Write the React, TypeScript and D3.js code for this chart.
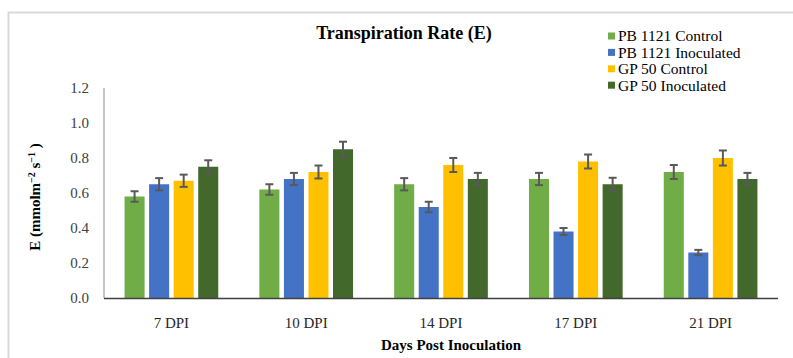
import React, { useEffect, useRef } from 'react';
import * as d3 from 'd3';

const days = ['7 DPI', '10 DPI', '14 DPI', '17 DPI', '21 DPI'];
const seriesNames = ['PB 1121 Control', 'PB 1121 Inoculated', 'GP 50 Control', 'GP 50 Inoculated'];
const colors = ['#70AD47', '#4472C4', '#FFC000', '#43682B'];

const pb1121Control = [0.58, 0.62, 0.65, 0.68, 0.72];
const pb1121Inoculated = [0.65, 0.68, 0.52, 0.38, 0.26];
const gp50Control = [0.67, 0.72, 0.76, 0.78, 0.8];
const gp50Inoculated = [0.75, 0.85, 0.68, 0.65, 0.68];

const pb1121ControlErr = [0.03, 0.03, 0.035, 0.035, 0.04];
const pb1121InoculatedErr = [0.035, 0.035, 0.03, 0.02, 0.015];
const gp50ControlErr = [0.035, 0.037, 0.04, 0.04, 0.043];
const gp50InoculatedErr = [0.037, 0.043, 0.035, 0.037, 0.035];

const yTicks = [0, 0.2, 0.4, 0.6, 0.8, 1.0, 1.2];

const App = () => {
  const chartRef = useRef<HTMLDivElement>(null);

  useEffect(() => {
    const values = [pb1121Control, pb1121Inoculated, gp50Control, gp50Inoculated];
    const errors = [pb1121ControlErr, pb1121InoculatedErr, gp50ControlErr, gp50InoculatedErr];
    const data = days.map((day, i) => ({
      day,
      bars: seriesNames.map((name, j) => ({ name, j, value: values[j][i], err: errors[j][i] })),
    }));

    const width = 793;
    const height = 358;
    const margin = { top: 88, right: 15, bottom: 60, left: 104 };
    const font = '"Liberation Serif", "Times New Roman", serif';

    const svg = d3
      .select(chartRef.current)
      .append('svg')
      .attr('width', width)
      .attr('height', height)
      .style('position', 'absolute')
      .style('left', 0)
      .style('top', 0)
      .style('font-family', font);

    svg.append('rect').attr('width', width).attr('height', height).attr('fill', '#fff');

    // light frame at top-left
    svg
      .append('path')
      .attr('d', `M8.5,${height} V12.5 H${width}`)
      .attr('fill', 'none')
      .attr('stroke', '#d9d9d9')
      .attr('stroke-width', 2);

    const x0 = d3
      .scaleBand()
      .domain(days)
      .range([margin.left, width - margin.right])
      .paddingInner(0.305)
      .paddingOuter(0.1525);

    const x1 = d3
      .scaleBand()
      .domain(seriesNames)
      .range([0, x0.bandwidth()])
      .paddingInner(0.184);

    const y = d3.scaleLinear().domain([0, 1.2]).range([height - margin.bottom, margin.top]);

    // bars
    const groups = svg
      .selectAll('.group')
      .data(data)
      .enter()
      .append('g')
      .attr('transform', (d) => `translate(${x0(d.day)},0)`);

    groups
      .selectAll('rect')
      .data((d) => d.bars)
      .enter()
      .append('rect')
      .attr('x', (d) => x1(d.name))
      .attr('y', (d) => y(d.value))
      .attr('width', x1.bandwidth())
      .attr('height', (d) => y(0) - y(d.value))
      .attr('fill', (d) => colors[d.j]);

    // error bars
    const eb = groups
      .selectAll('.err')
      .data((d) => d.bars)
      .enter()
      .append('g')
      .attr('stroke', '#595959')
      .attr('stroke-width', 2);

    const cx = (d) => x1(d.name) + x1.bandwidth() / 2;
    eb.append('line')
      .attr('x1', cx)
      .attr('x2', cx)
      .attr('y1', (d) => y(d.value + d.err))
      .attr('y2', (d) => y(d.value - d.err));
    eb.append('line')
      .attr('x1', (d) => cx(d) - 4)
      .attr('x2', (d) => cx(d) + 4)
      .attr('y1', (d) => y(d.value + d.err))
      .attr('y2', (d) => y(d.value + d.err));
    eb.append('line')
      .attr('x1', (d) => cx(d) - 4)
      .attr('x2', (d) => cx(d) + 4)
      .attr('y1', (d) => y(d.value - d.err))
      .attr('y2', (d) => y(d.value - d.err));

    // axes
    svg
      .append('line')
      .attr('x1', margin.left)
      .attr('x2', margin.left)
      .attr('y1', y(1.2))
      .attr('y2', y(0))
      .attr('stroke', '#8c8c8c')
      .attr('stroke-width', 1);

    svg
      .append('line')
      .attr('x1', margin.left)
      .attr('x2', width - margin.right)
      .attr('y1', y(0) + 0.5)
      .attr('y2', y(0) + 0.5)
      .attr('stroke', '#404040')
      .attr('stroke-width', 1.5);

    svg
      .selectAll('.ytick')
      .data(yTicks)
      .enter()
      .append('text')
      .attr('x', 89)
      .attr('y', (d) => y(d))
      .attr('dy', '0.35em')
      .attr('text-anchor', 'end')
      .attr('font-size', 15)
      .attr('fill', '#404040')
      .text((d) => d3.format('.1f')(d));

    svg
      .selectAll('.xtick')
      .data(days)
      .enter()
      .append('text')
      .attr('x', (d) => x0(d) + x0.bandwidth() / 2)
      .attr('y', 328)
      .attr('text-anchor', 'middle')
      .attr('font-size', 15)
      .attr('fill', '#262626')
      .text((d) => d);

    // titles
    svg
      .append('text')
      .attr('x', 404)
      .attr('y', 39)
      .attr('text-anchor', 'middle')
      .attr('font-size', 18)
      .attr('font-weight', 'bold')
      .attr('fill', '#000')
      .text('Transpiration Rate (E)');

    svg
      .append('text')
      .attr('x', 451)
      .attr('y', 350)
      .attr('text-anchor', 'middle')
      .attr('font-size', 15)
      .attr('font-weight', 'bold')
      .attr('fill', '#000')
      .text('Days Post Inoculation');

    const yTitle = svg
      .append('text')
      .attr('transform', 'translate(40,197) rotate(-90)')
      .attr('text-anchor', 'middle')
      .attr('font-size', 15)
      .attr('font-weight', 'bold')
      .attr('fill', '#000');
    yTitle.append('tspan').text('E (mmolm');
    yTitle.append('tspan').attr('font-size', 10).attr('baseline-shift', '5').text('−2');
    yTitle.append('tspan').text('  s');
    yTitle.append('tspan').attr('font-size', 10).attr('baseline-shift', '5').text('−1');
    yTitle.append('tspan').text('  )');

    // legend
    const legend = svg
      .selectAll('.legend')
      .data(seriesNames)
      .enter()
      .append('g')
      .attr('transform', (d, i) => `translate(608,${36 + i * 16.4})`);

    legend
      .append('rect')
      .attr('x', 0)
      .attr('y', -3.5)
      .attr('width', 7)
      .attr('height', 7)
      .attr('fill', (d, i) => colors[i]);

    legend
      .append('text')
      .attr('x', 10)
      .attr('dy', '0.35em')
      .attr('font-size', 15.5)
      .attr('fill', '#000')
      .text((d) => d);

    return () => {
      d3.select(chartRef.current).selectAll('svg').remove();
    };
  }, []);

  return <div ref={chartRef}></div>;
};

export default App;
